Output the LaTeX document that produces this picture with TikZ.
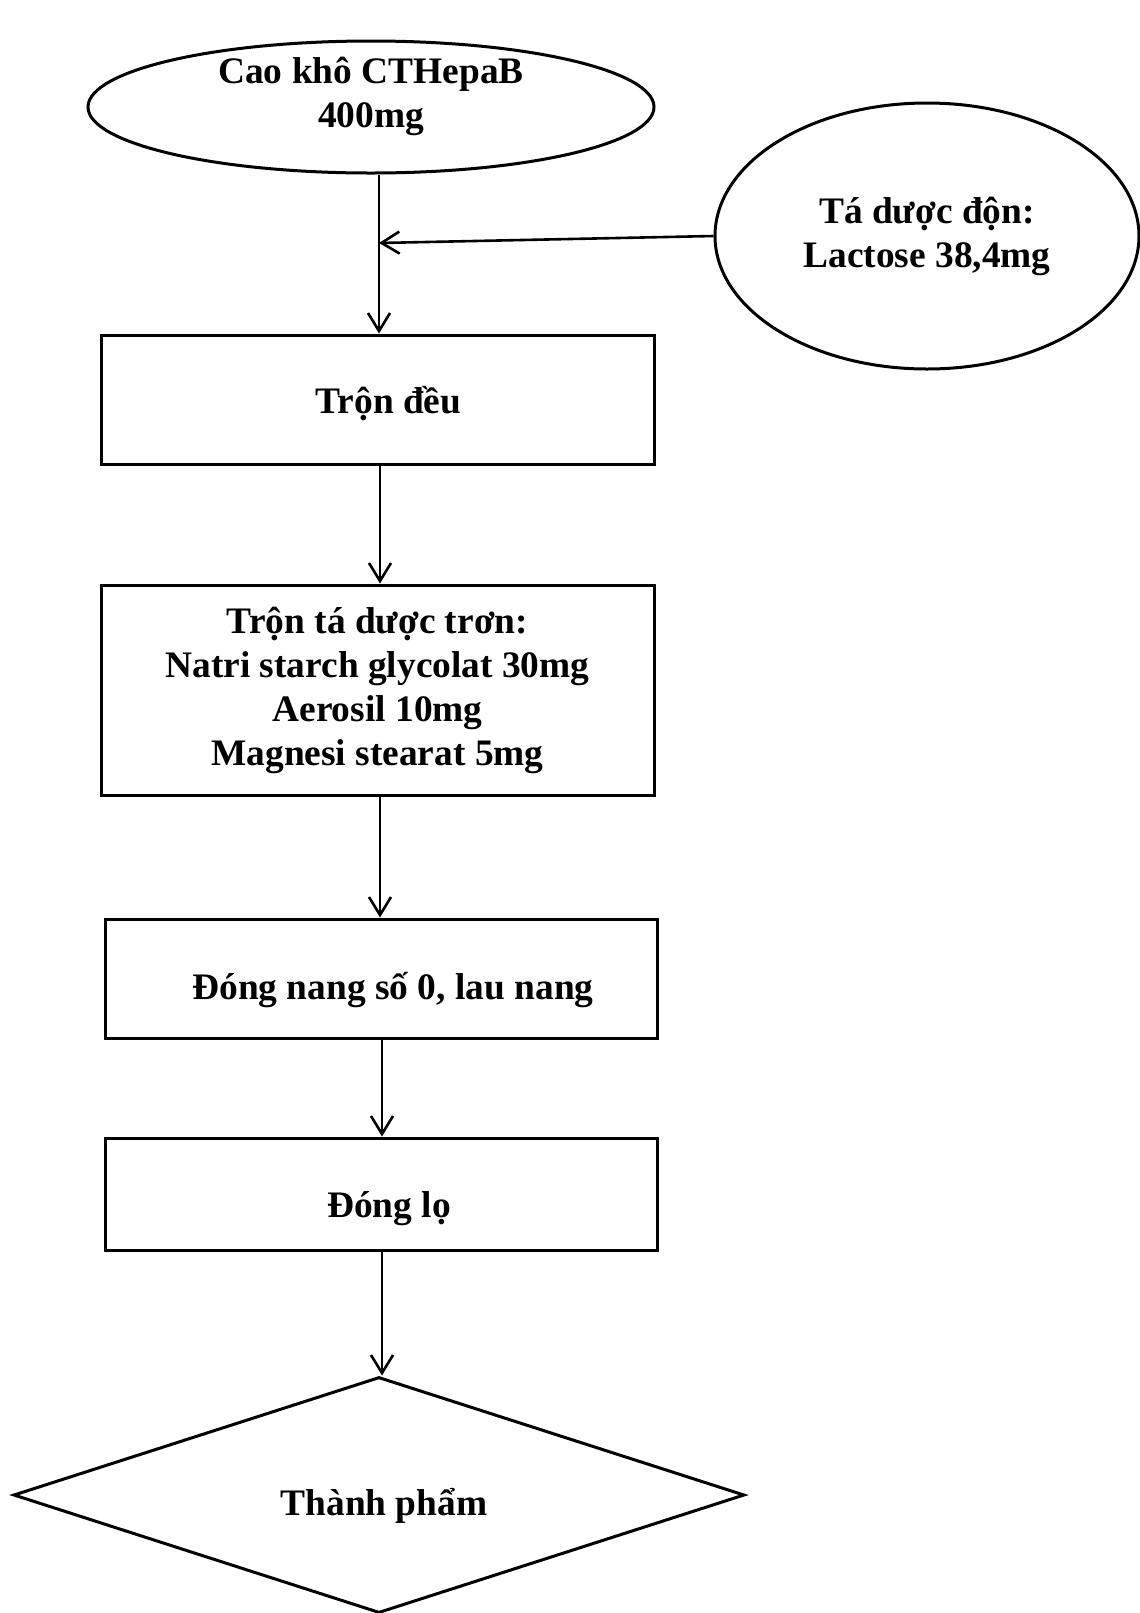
\documentclass[tikz,border=0pt]{standalone}
\usepackage{fontspec}
\setmainfont{Liberation Serif}
\usetikzlibrary{arrows.meta,shapes.geometric}

\tikzset{
  hop/.style={draw,line width=1.5pt,minimum width=276.5pt,inner sep=0pt},
  elip/.style={draw,ellipse,line width=1.5pt,inner sep=0pt},
  chu/.style={align=center,font=\fontsize{18.7pt}{22pt}\selectfont\bfseries},
  muiten/.style={line width=1.3pt,-{Straight Barb[length=9pt,width=11pt,line width=1.3pt]}}
}
\newcommand{\haxuong}[2]{\raisebox{-#1}[\height][\depth]{#2}}

\begin{document}
\begin{tikzpicture}[x=0.5pt,y=-0.5pt]
  \useasboundingbox (0,0) rectangle (1140,1613);

  % Nguyen lieu
  \node[elip,minimum width=283pt,minimum height=66pt] (cao) at (371,107) {};
  \node[chu] (caotxt) at (371,96) {Cao khô CTHepaB\\400mg};
  \node[elip,chu,minimum width=212pt,minimum height=133pt] (tadon) at (927,236) {Tá dược độn:\\Lactose 38,4mg};

  % Cac buoc
  \node[hop,chu,minimum height=64.5pt] (tron) at (377.5,399.5) {\hspace{11pt}\haxuong{2pt}{Trộn đều}};
  \node[hop,chu,minimum height=105pt] (trontron) at (377.5,690) {Trộn tá dược trơn:\\Natri starch glycolat 30mg\\Aerosil 10mg\\Magnesi stearat 5mg};
  \node[hop,chu,minimum width=276pt,minimum height=59.5pt] (dongnang) at (381,978.5) {\hspace{12pt}\haxuong{6pt}{Đóng nang số 0, lau nang}};
  \node[hop,chu,minimum width=276pt,minimum height=56pt] (donglo) at (381,1194) {\hspace{8pt}\haxuong{7.5pt}{Đóng lọ}};
  \node[draw,diamond,chu,line width=1.5pt,aspect=3.1,minimum width=365.5pt,minimum height=118pt,inner sep=0pt] (thanhpham) at (379,1495) {};
  \node[chu] (tptxt) at (384,1506) {Thành phẩm};

  % Mui ten
  \coordinate (gop) at (379,243);
  \draw[muiten] (cao.south -| gop) -- (tron.north -| gop);
  \draw[muiten] (tadon.west) -- (gop);
  \draw[muiten] (tron.south -| 380,0) -- (trontron.north -| 380,0);
  \draw[muiten] (trontron.south -| 380,0) -- (dongnang.north -| 380,0);
  \draw[muiten] (dongnang.south -| 382,0) -- (donglo.north -| 382,0);
  \draw[muiten] (donglo.south -| 382,0) -- (thanhpham.north -| 382,0);
\end{tikzpicture}
\end{document}
